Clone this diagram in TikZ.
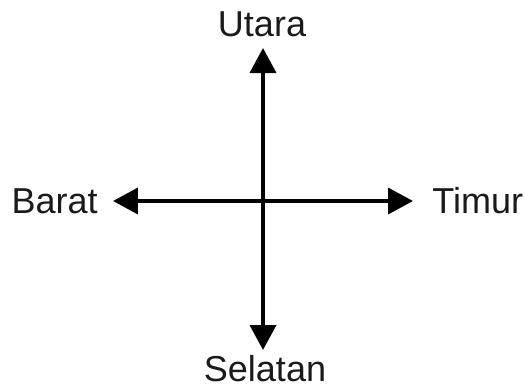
\documentclass[tikz,border=0pt]{standalone}
\usepackage{fontspec}
\setmainfont{Liberation Sans}
\usetikzlibrary{positioning,arrows.meta}
\definecolor{ink}{HTML}{1A1A1A}

\begin{document}
\begin{tikzpicture}[x=0.02cm,y=-0.02cm,
  lbl/.style={font=\fontsize{20.5}{24}\selectfont,text=ink,inner sep=0pt},
  arr/.style={line width=2.1pt,-{Triangle[length=0.5cm,width=0.52cm]}}]
\useasboundingbox (0,0) rectangle (525,390);
% centre and tips
\coordinate (o) at (263,201);
\coordinate (n) at (263,48);
\coordinate (s) at (263,350);
\coordinate (w) at (113,201);
\coordinate (e) at (413,201);
% labels
\node[lbl,anchor=base] (utara) at (262,36) {Utara};
\node[lbl,anchor=base] (selatan) at (265,381) {Selatan};
\node[lbl,anchor=base east] (barat) at (98,213) {Barat};
\node[lbl,anchor=base west] (timur) at (432,213) {Timur};
% arrows
\foreach \t in {n,s,w,e}{
  \draw[arr] (o) -- (\t);}
\end{tikzpicture}
\end{document}
